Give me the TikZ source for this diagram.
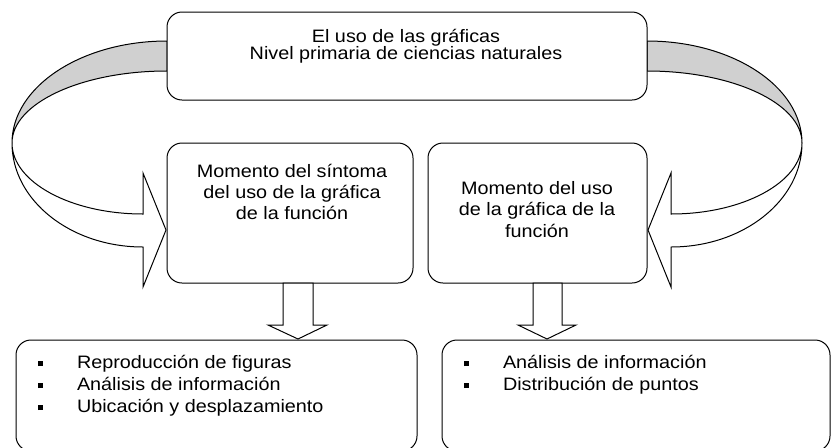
\documentclass[tikz,border=0pt]{standalone}
\usepackage{fontspec}
\setmainfont{Liberation Sans}[FakeStretch=1.1]
\definecolor{ribbongray}{RGB}{208,208,208}
\newcommand\bul{\makebox[29.25pt][l]{\rule[1.5pt]{4pt}{4pt}}}
\tikzset{
  box/.style={draw=black, fill=white, line width=0.75pt, rounded corners=11.25pt, inner sep=0pt, outer sep=0pt},
  txt/.style={inner sep=0pt, outer sep=0pt, font=\fontsize{13.5}{16}\selectfont},
  shapeline/.style={draw=black, line width=0.75pt, line join=miter},
}
\begin{document}
\begin{tikzpicture}[x=0.75pt,y=-0.75pt]
\useasboundingbox (0,0) rectangle (834,447);
% left twisted ribbon arrow
\path[shapeline, fill=ribbongray] (167,41) .. controls (81.4,41) and (12,86.7) .. (12,143)
   .. controls (12,103.3) and (81.4,71) .. (167,71) -- cycle;
\path[shapeline, fill=white] (12,143) .. controls (12,182) and (70.7,214) .. (143,214)
   -- (143,173) -- (166,230) -- (143,287) -- (143,247)
   .. controls (70.7,247) and (12,200.4) .. (12,143) -- cycle;
% right twisted ribbon arrow
\path[shapeline, fill=ribbongray] (647,41) .. controls (732.6,41) and (802,86.7) .. (802,143)
   .. controls (802,103.3) and (732.6,71) .. (647,71) -- cycle;
\path[shapeline, fill=white] (802,143) .. controls (802,182) and (743.3,214) .. (671,214)
   -- (671,173) -- (648,230) -- (671,287) -- (671,247)
   .. controls (743.3,247) and (802,200.4) .. (802,143) -- cycle;
% boxes
\node[box, minimum width=360pt, minimum height=66pt] (top) at (407,56) {};
\node[box, minimum width=184.5pt, minimum height=105pt] (ml) at (290,213) {};
\node[box, minimum width=164.25pt, minimum height=105pt] (mr) at (537.5,213) {};
\node[box, minimum width=300.75pt, minimum height=83.25pt] (bl) at (216.5,395.5) {};
\node[box, minimum width=291pt, minimum height=83.25pt] (br) at (636,395.5) {};
% down block arrows
\path[shapeline, fill=white] (283,283) -- (313,283) -- (313,325) -- (327,325) -- (298,339)
   -- (268,325) -- (283,325) -- cycle;
\path[shapeline, fill=white] (533,283) -- (562,283) -- (562,325) -- (576,325) -- (547,339)
   -- (518,325) -- (533,325) -- cycle;
% texts
\node[txt, anchor=base] (t1) at (406,42) {El uso de las gráficas};
\node[txt, anchor=base] (t2) at (406,59.5) {Nivel primaria de ciencias naturales};
\node[txt, anchor=base] (l1) at (292,177) {Momento del síntoma};
\node[txt, anchor=base] (l2) at (292,198) {del uso de la gráfica};
\node[txt, anchor=base] (l3) at (292,219) {de la función};
\node[txt, anchor=base] (r1) at (537,194) {Momento del uso};
\node[txt, anchor=base] (r2) at (537,215.5) {de la gráfica de la};
\node[txt, anchor=base] (r3) at (537,237) {función};
\node[txt, anchor=base west] (b1) at (38,368) {\bul Reproducción de figuras};
\node[txt, anchor=base west] (b2) at (38,390) {\bul Análisis de información};
\node[txt, anchor=base west] (b3) at (38,412) {\bul Ubicación y desplazamiento};
\node[txt, anchor=base west] (c1) at (464,368) {\bul Análisis de información};
\node[txt, anchor=base west] (c2) at (464,390) {\bul Distribución de puntos};
\end{tikzpicture}
\end{document}
